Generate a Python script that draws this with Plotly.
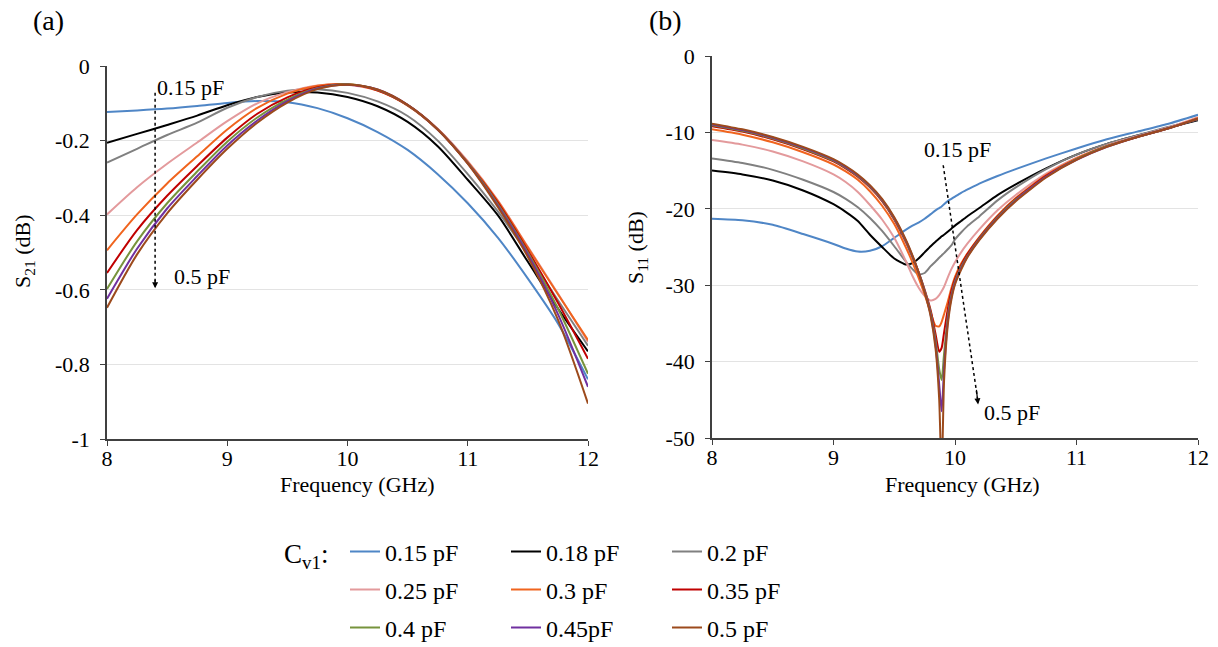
import plotly.graph_objects as go

# ---------------- data ----------------
labels = ["0.15 pF", "0.18 pF", "0.2 pF", "0.25 pF", "0.3 pF", "0.35 pF", "0.4 pF", "0.45pF", "0.5 pF"]
colors = ["#4f86c6", "#000000", "#808080", "#e39a9c", "#f0641e", "#c00000", "#77933c", "#7030a0", "#9c4a1c"]

# (a) S21 (dB)
freq21 = [8.0, 8.25, 8.5, 8.75, 9.0, 9.25, 9.5, 9.75, 10.0, 10.25, 10.5, 10.75, 11.0, 11.25, 11.5, 11.75, 12.0]
s21_015 = [-0.123, -0.119, -0.114, -0.107, -0.099, -0.094, -0.097, -0.113, -0.140, -0.177, -0.225, -0.290, -0.368, -0.460, -0.570, -0.690, -0.840]
s21_018 = [-0.206, -0.182, -0.158, -0.133, -0.105, -0.083, -0.071, -0.071, -0.083, -0.108, -0.150, -0.215, -0.305, -0.400, -0.525, -0.650, -0.765]
s21_020 = [-0.259, -0.222, -0.185, -0.152, -0.112, -0.083, -0.066, -0.062, -0.072, -0.095, -0.134, -0.200, -0.290, -0.390, -0.505, -0.628, -0.750]
s21_025 = [-0.398, -0.325, -0.262, -0.205, -0.148, -0.100, -0.070, -0.052, -0.050, -0.066, -0.105, -0.168, -0.255, -0.360, -0.485, -0.610, -0.740]
s21_030 = [-0.494, -0.398, -0.315, -0.242, -0.170, -0.112, -0.074, -0.053, -0.049, -0.066, -0.106, -0.170, -0.258, -0.362, -0.487, -0.612, -0.735]
s21_035 = [-0.555, -0.440, -0.348, -0.268, -0.192, -0.128, -0.084, -0.057, -0.049, -0.065, -0.105, -0.170, -0.260, -0.366, -0.495, -0.635, -0.785]
s21_040 = [-0.598, -0.470, -0.368, -0.283, -0.203, -0.138, -0.090, -0.059, -0.049, -0.064, -0.105, -0.170, -0.260, -0.370, -0.500, -0.650, -0.825]
s21_045 = [-0.624, -0.490, -0.382, -0.295, -0.213, -0.146, -0.094, -0.060, -0.050, -0.063, -0.104, -0.170, -0.261, -0.374, -0.505, -0.665, -0.860]
s21_050 = [-0.648, -0.505, -0.395, -0.305, -0.222, -0.152, -0.098, -0.062, -0.050, -0.063, -0.104, -0.170, -0.262, -0.378, -0.512, -0.680, -0.905]

# (b) S11 (dB)
freq11 = [8.0, 8.25, 8.5, 8.75, 9.0, 9.1, 9.2, 9.3, 9.4, 9.5, 9.6, 9.65, 9.7, 9.75, 9.8, 9.84, 9.87,
          9.89, 9.91, 9.94, 9.97, 10.0, 10.05, 10.1, 10.2, 10.35, 10.5, 10.75, 11.0, 11.25, 11.5, 11.75, 12.0]
s11_015 = [-21.3, -21.5, -22.1, -23.3, -24.6, -25.2, -25.6, -25.5, -24.9, -23.8, -22.7, -22.2, -21.8, -21.3, -20.7, -20.2, -19.9,
           -19.7, -19.4, -19.0, -18.7, -18.4, -17.9, -17.5, -16.7, -15.7, -14.8, -13.4, -12.1, -10.9, -9.9, -8.9, -7.7]
s11_018 = [-15.0, -15.5, -16.3, -17.6, -19.4, -20.4, -21.6, -23.4, -25.0, -26.5, -27.3, -27.1, -26.5, -25.7, -24.9, -24.3, -23.9,
           -23.6, -23.4, -23.0, -22.6, -22.2, -21.6, -21.0, -19.9, -18.2, -16.8, -14.7, -12.9, -11.5, -10.4, -9.4, -8.4]
s11_020 = [-13.4, -14.0, -14.9, -16.2, -17.8, -18.7, -19.8, -21.2, -22.9, -24.9, -27.0, -27.9, -28.6, -28.4, -27.5, -26.9, -26.4,
           -26.1, -25.8, -25.3, -24.8, -24.0, -23.1, -22.3, -21.0, -18.9, -17.2, -14.8, -12.9, -11.5, -10.4, -9.3, -8.3]
s11_025 = [-11.0, -11.6, -12.5, -13.8, -15.5, -16.5, -17.8, -19.5, -21.4, -23.8, -27.0, -28.8, -30.3, -31.4, -32.0, -31.8, -31.3,
           -30.8, -30.2, -29.0, -27.9, -27.0, -25.7, -24.6, -22.7, -20.2, -18.2, -15.4, -13.3, -11.7, -10.5, -9.4, -8.0]
s11_030 = [-9.6, -10.3, -11.3, -12.6, -14.2, -15.1, -16.2, -17.7, -19.6, -22.0, -25.2, -27.0, -29.0, -31.2, -33.6, -35.3, -35.4,
           -34.8, -33.8, -32.2, -30.4, -28.9, -27.2, -25.9, -23.7, -20.9, -18.6, -15.6, -13.4, -11.8, -10.6, -9.5, -8.1]
s11_035 = [-9.2, -9.9, -10.9, -12.2, -13.8, -14.7, -15.8, -17.2, -19.0, -21.4, -24.5, -26.3, -28.3, -30.6, -33.3, -36.4, -38.7,
           -38.2, -36.2, -33.2, -30.8, -29.2, -27.4, -26.0, -23.8, -21.0, -18.7, -15.7, -13.5, -11.8, -10.6, -9.5, -8.2]
s11_040 = [-9.05, -9.8, -10.8, -12.1, -13.7, -14.6, -15.7, -17.1, -18.9, -21.3, -24.4, -26.3, -28.3, -30.7, -33.6, -37.2, -41.0,
           -42.4, -39.0, -34.2, -31.3, -29.5, -27.6, -26.2, -23.9, -21.1, -18.8, -15.8, -13.5, -11.8, -10.6, -9.5, -8.2]
s11_045 = [-8.95, -9.7, -10.7, -12.0, -13.6, -14.5, -15.6, -17.0, -18.8, -21.2, -24.3, -26.2, -28.3, -30.8, -33.9, -37.8, -43.0,
           -46.5, -41.0, -34.8, -31.6, -29.7, -27.8, -26.3, -24.0, -21.2, -18.9, -15.8, -13.6, -11.9, -10.6, -9.5, -8.2]
s11_050 = [-8.85, -9.6, -10.6, -11.9, -13.5, -14.4, -15.5, -16.9, -18.7, -21.1, -24.2, -26.1, -28.3, -30.9, -34.1, -38.3, -45.0,
           -55.0, -42.5, -35.3, -31.9, -29.9, -28.0, -26.4, -24.1, -21.3, -19.0, -15.9, -13.6, -11.9, -10.6, -9.5, -8.2]

s21_all = [s21_015, s21_018, s21_020, s21_025, s21_030, s21_035, s21_040, s21_045, s21_050]
s11_all = [s11_015, s11_018, s11_020, s11_025, s11_030, s11_035, s11_040, s11_045, s11_050]

x_ticks = [8, 9, 10, 11, 12]
y21_ticks = [0, -0.2, -0.4, -0.6, -0.8, -1]
y21_text = ["0", "-0.2", "-0.4", "-0.6", "-0.8", "-1"]
y11_ticks = [0, -10, -20, -30, -40, -50]
y11_text = ["0", "-10", "-20", "-30", "-40", "-50"]

# ---------------- figure ----------------
FONT = "Liberation Serif"
W, H = 1218, 647
fig = go.Figure()

legends = ["legend", "legend", "legend", "legend2", "legend2", "legend2", "legend3", "legend3", "legend3"]
for i in range(9):
    fig.add_trace(go.Scatter(x=freq21, y=s21_all[i], mode="lines", name=labels[i],
                             line=dict(color=colors[i], width=2, shape="spline", smoothing=0.8),
                             xaxis="x", yaxis="y", legend=legends[i], showlegend=True))
for i in range(9):
    fig.add_trace(go.Scatter(x=freq11, y=s11_all[i], mode="lines", name=labels[i],
                             line=dict(color=colors[i], width=2, shape="spline", smoothing=0.6),
                             xaxis="x2", yaxis="y2", showlegend=False))

def px_x(p):
    return p / W

def px_y(p):
    return 1 - p / H

axis_common = dict(showline=True, linecolor="#404040", linewidth=1.5, ticks="outside", ticklen=5,
                   tickcolor="#404040", tickfont=dict(family=FONT, size=22, color="black"),
                   zeroline=False, automargin=False)

leg_common = dict(orientation="h", xanchor="left", yanchor="middle", entrywidth=116, entrywidthmode="pixels",
                  font=dict(family=FONT, size=24, color="black"), bgcolor="rgba(0,0,0,0)",
                  itemwidth=30, tracegroupgap=0, itemclick=False)

fig.update_layout(
    width=W, height=H, margin=dict(l=0, r=0, t=0, b=0, autoexpand=False),
    paper_bgcolor="white", plot_bgcolor="white",
    font=dict(family=FONT, size=22, color="black"),
    xaxis=dict(domain=[px_x(107), px_x(588)], range=[8, 12], tickvals=x_ticks, showgrid=False, anchor="y",
               ticklabelstandoff=-6, **axis_common),
    yaxis=dict(domain=[px_y(439), px_y(66)], range=[-1, 0], tickvals=y21_ticks, ticktext=y21_text,
               showgrid=True, gridcolor="#e3e3e3", gridwidth=1, anchor="x", ticklabelstandoff=6, **axis_common),
    xaxis2=dict(domain=[px_x(712), px_x(1198)], range=[8, 12], tickvals=x_ticks, showgrid=False, anchor="y2",
                ticklabelstandoff=-6, **axis_common),
    yaxis2=dict(domain=[px_y(438), px_y(56)], range=[-50, 0], tickvals=y11_ticks, ticktext=y11_text,
                showgrid=True, gridcolor="#e3e3e3", gridwidth=1, anchor="x2", ticklabelstandoff=6, **axis_common),
    legend=dict(x=px_x(345), y=px_y(552), **leg_common),
    legend2=dict(x=px_x(345), y=px_y(590), **leg_common),
    legend3=dict(x=px_x(345), y=px_y(628), **leg_common),
)

def pann(text, x, y, size, **kw):
    d = dict(text=text, x=px_x(x), y=px_y(y), xref="paper", yref="paper", showarrow=False,
             xanchor="center", yanchor="middle", font=dict(family=FONT, size=size, color="black"))
    d.update(kw)
    return d

ann = []
# axis titles
ann.append(pann("Frequency (GHz)", 358, 484, 22))
ann.append(pann("Frequency (GHz)", 962, 484, 22))
ann.append(pann("S<sub>21</sub> (dB)", 24, 252, 22, textangle=-90))
ann.append(pann("S<sub>11</sub> (dB)", 637, 248, 22, textangle=-90))
# panel labels
ann.append(pann("(a)", 48, 20, 28))
ann.append(pann("(b)", 665, 20, 28))
# legend label
ann.append(pann("C<sub>v1</sub>:", 282, 556, 27, xanchor="left"))
# in-plot annotations (a)
ann.append(dict(text="0.15 pF", x=8.4, y=-0.058, xref="x", yref="y", xanchor="left", yanchor="middle",
                showarrow=False, font=dict(family=FONT, size=22)))
ann.append(dict(text="0.5 pF", x=8.54, y=-0.565, xref="x", yref="y", xanchor="left", yanchor="middle",
                showarrow=False, font=dict(family=FONT, size=22)))
ann.append(dict(text="", x=8.4, y=-0.596, ax=8.4, ay=-0.57, xref="x", yref="y", axref="x", ayref="y",
                showarrow=True, arrowhead=2, arrowsize=1, arrowwidth=1.2, arrowcolor="black"))
# in-plot annotations (b)
ann.append(dict(text="0.15 pF", x=9.73, y=-12.3, xref="x2", yref="y2", xanchor="left", yanchor="middle",
                showarrow=False, font=dict(family=FONT, size=22)))
ann.append(dict(text="0.5 pF", x=10.22, y=-46.6, xref="x2", yref="y2", xanchor="left", yanchor="middle",
                showarrow=False, font=dict(family=FONT, size=22)))
ann.append(dict(text="", x=10.19, y=-45.6, ax=10.175, ay=-43.5, xref="x2", yref="y2", axref="x2", ayref="y2",
                showarrow=True, arrowhead=2, arrowsize=1, arrowwidth=1.2, arrowcolor="black"))
fig.update_layout(annotations=ann)

fig.update_layout(shapes=[
    dict(type="line", xref="x", yref="y", x0=8.4, y0=-0.072, x1=8.4, y1=-0.585,
         line=dict(color="black", width=1.5, dash="dot")),
    dict(type="line", xref="x2", yref="y2", x0=9.903, y0=-14.3, x1=10.185, y1=-44.8,
         line=dict(color="black", width=1.5, dash="dot")),
])

fig.write_html("out.html", config={"displayModeBar": False},
               post_script="document.body.style.margin='0px';document.body.style.overflow='hidden';")
